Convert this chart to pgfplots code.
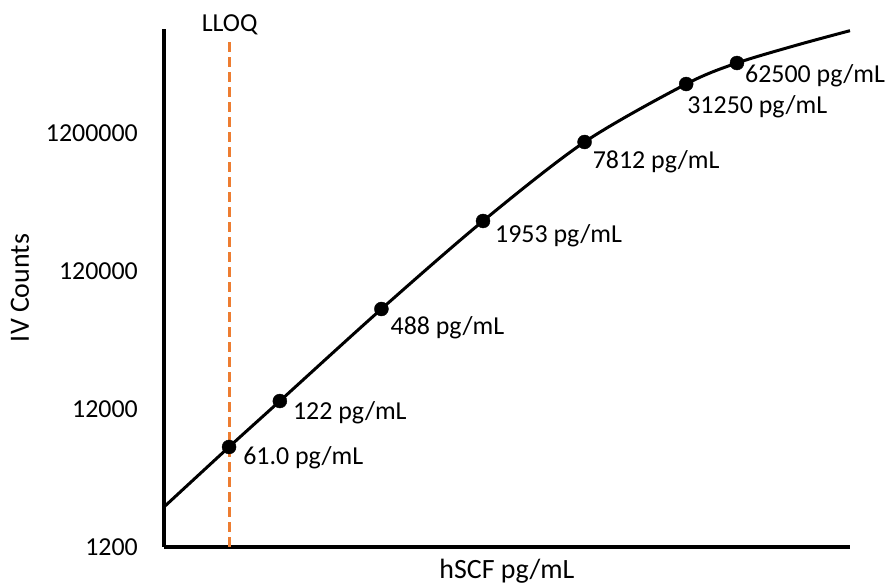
\documentclass[border=0pt]{standalone}
\usepackage{pgfplots}
\pgfplotsset{compat=1.18}
\usepackage{fontspec}
\setmainfont{Carlito}
\definecolor{llorange}{HTML}{ED7D31}
\begin{document}
\begin{tikzpicture}
\begin{axis}[
  at={(0,0)}, anchor=south west,
  scale only axis, width=686bp, height=518bp,
  xmode=log, ymode=log,
  xmin=25.1, xmax=292400,
  ymin=1200, ymax=6.81e6,
  axis x line=bottom, axis y line=left,
  axis line style={-, line width=3.5bp, black},
  xtick=\empty,
  ytick={1200,12000,120000,1200000},
  yticklabels={1200,12000,120000,1200000},
  major tick length=0pt, minor tick num=0,
  yminorticks=false, xminorticks=false,
  /pgf/number format/assume math mode=true,
  yticklabel style={anchor=east, inner sep=0pt, xshift=-26bp, font=\fontsize{26}{30}\selectfont},
  xlabel={hSCF pg/mL}, ylabel={IV Counts},
  xlabel style={at={(axis description cs:0.5,-0.0463)}, anchor=center, font=\fontsize{28}{32}\selectfont},
  ylabel style={at={(axis description cs:-0.2099,0.5)}, anchor=center, font=\fontsize{28}{32}\selectfont},
  clip=false,
]
% LLOQ line
\addplot[llorange, line width=3bp, dash pattern=on 10bp off 5bp] coordinates {(61.5,1200) (61.5,5.86e6)};
% fitted curve
\addplot[black, line width=3bp, smooth, tension=0.5, no marks] coordinates {
(25.1,2340) (61,6368) (122,13710) (488,63680) (1953,276500) (7812,1.033e6) (31250,2.718e6) (62500,3.86e6) (141900,5.21e6) (292400,6.62e6)};
% standards
\addplot[only marks, mark=*, mark size=7bp, black] coordinates {
(61,6368) (122,13710) (488,63680) (1953,276500) (7812,1.033e6) (31250,2.718e6) (62500,3.86e6)};
\begin{scope}[every node/.style={anchor=west, inner sep=0pt, font=\fontsize{26}{30}\selectfont}]
\node at ([xshift=14bp,yshift=-11bp]axis cs:61,6368) {61.0 pg/mL};
\node at ([xshift=13bp,yshift=-12bp]axis cs:122,13710) {122 pg/mL};
\node at ([xshift=9bp,yshift=-19bp]axis cs:488,63680) {488 pg/mL};
\node at ([xshift=12bp,yshift=-15bp]axis cs:1953,276500) {1953 pg/mL};
\node at ([xshift=8bp,yshift=-20bp]axis cs:7812,1.033e6) {7812 pg/mL};
\node at ([xshift=1bp,yshift=-23bp]axis cs:31250,2.718e6) {31250 pg/mL};
\node at ([xshift=8bp,yshift=-13bp]axis cs:62500,3.86e6) {62500 pg/mL};
\end{scope}
\node[inner sep=0pt, font=\fontsize{26}{30}\selectfont] at (axis cs:61.5,7.28e6) {LLOQ};
\end{axis}
\pgfresetboundingbox
\path (-164bp,-36bp) rectangle (727bp,547bp);
\end{tikzpicture}
\end{document}
